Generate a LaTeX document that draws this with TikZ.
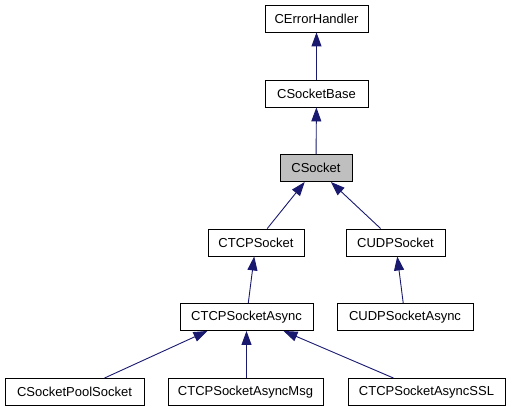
\documentclass[tikz,border=0pt]{standalone}
\usepackage{fontspec}
\setmainfont{Liberation Sans}
\usepackage{tikz}
\usetikzlibrary{arrows.meta}

\definecolor{edgeblue}{HTML}{191970}
\definecolor{boxgray}{HTML}{BFBFBF}

\begin{document}
\begin{tikzpicture}[x=1pt,y=-1pt,
        cls/.style={draw=black,line width=0.9pt,fill=white,inner sep=0pt,
            minimum height=27pt,font=\fontsize{13}{15}\selectfont},
        edge/.style={draw=edgeblue,line width=0.9pt,
            -{Triangle[length=14pt,width=10pt]}}]
            \useasboundingbox (0,0) rectangle (512,411);

            \node[cls,minimum width=103pt] (err) at (316.5,18.5) {CErrorHandler};
            \node[cls,minimum width=103pt] (base) at (316.5,93.5) {CSocketBase};
            \node[cls,minimum width=72pt,fill=boxgray] (sock) at (316,168) {CSocket};
            \node[cls,minimum width=96pt] (tcp) at (256,242.5) {CTCPSocket};
            \node[cls,minimum width=99pt] (udp) at (395.5,242.5) {CUDPSocket};
            \node[cls,minimum width=133pt] (tcpasync) at (246.5,317) {CTCPSocketAsync};
            \node[cls,minimum width=136pt] (udpasync) at (405,317) {CUDPSocketAsync};
            \node[cls,minimum width=139pt] (pool) at (74.5,392) {CSocketPoolSocket};
            \node[cls,minimum width=155pt] (msg) at (245.5,392) {CTCPSocketAsyncMsg};
            \node[cls,minimum width=157pt] (ssl) at (426.5,392) {CTCPSocketAsyncSSL};

            \draw[edge] (base) -- (err);
            \draw[edge] (sock) -- (base);
            \draw[edge] (tcp) -- (sock);
            \draw[edge] (udp) -- (sock);
            \draw[edge] (tcpasync) -- (tcp);
            \draw[edge] (udpasync) -- (udp);

            %children of CTCPSocketAsync
            \draw[edge] ([xshift=30pt]pool.north) -- ([xshift=-39pt]tcpasync.south);
            \draw[edge] (msg.north -| tcpasync.south) -- (tcpasync.south);
            \draw[edge] ([xshift=-33pt]ssl.north) -- ([xshift=37pt]tcpasync.south);
        \end{tikzpicture}
\end{document}
